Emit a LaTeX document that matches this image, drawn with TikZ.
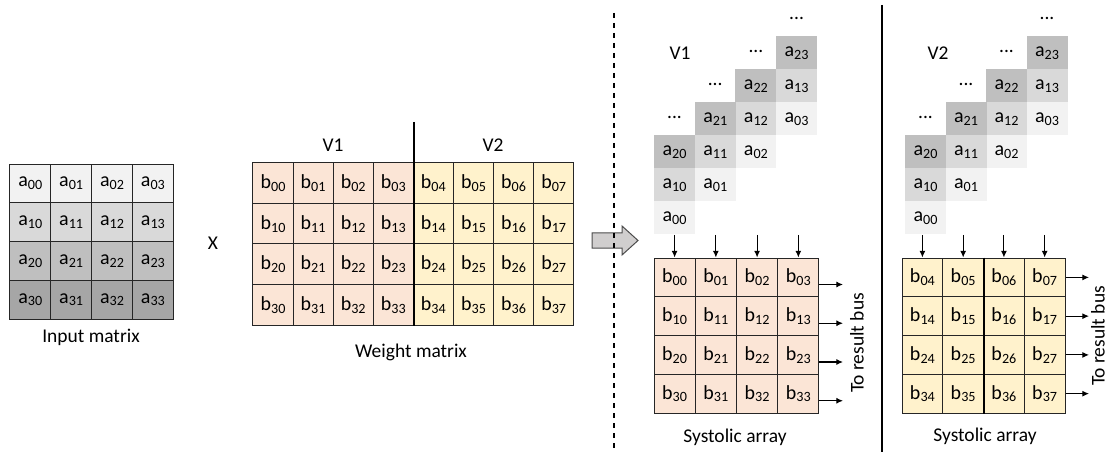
\documentclass[tikz,border=0pt]{standalone}
\usepackage{fontspec}
\setmainfont{Carlito}
\usepackage{xcolor}
\usepackage{tikz}
\usetikzlibrary{positioning,arrows.meta}
\definecolor{rowA}{HTML}{F2F2F2}
\definecolor{rowB}{HTML}{D9D9D9}
\definecolor{rowC}{HTML}{BFBFBF}
\definecolor{rowD}{HTML}{A6A6A6}
\definecolor{vone}{HTML}{FBE5D6}
\definecolor{vtwo}{HTML}{FFF2CC}
\definecolor{blockgray}{HTML}{D0CECE}
\newcommand{\idx}[1]{\raisebox{-0.3ex}{\fontsize{10.6}{12}\selectfont #1}}
\tikzset{cell/.style = {rectangle, draw=black!85, line width=0.75pt,
                           minimum width=30.9pt, minimum height=29.1pt,
                           inner sep=0pt, text centered, font=\fontsize{15}{17}\selectfont},
         feed/.style = {rectangle, minimum width=30.75pt, minimum height=24.75pt,
                           inner sep=0pt, font=\fontsize{15}{17}\selectfont},
         flow/.style = {-{Latex[length=5pt,width=4.5pt]}, line width=0.8pt}}

\begin{document}
\begin{tikzpicture}[x=0.75pt, y=-0.75pt, font=\fontsize{14.6}{17}\selectfont]
\useasboundingbox (0,0) rectangle (1116,452);
% input matrix
\foreach \i/\c in {0/rowA,1/rowB,2/rowC,3/rowD}
  \foreach \j in {0,...,3}
    \node[cell, fill=\c] (in-\i-\j) at ({30.25+40.9*\j},{183.5+38.75*\i}) {a\idx{\i\j}};
\node (inlbl) at (91,337) {Input matrix};
\node (times) at (213,243) {X};
% weight matrix
\foreach \lo/\hi/\c in {0/3/vone,4/7/vtwo}
  \foreach \i in {0,...,3}
    \foreach \j in {\lo,...,\hi}
      \node[cell, fill=\c, minimum width=30.1pt, minimum height=30.4pt] (w-\i-\j) at ({273+40.1*\j},{183.25+40.5*\i}) {b\idx{\i\j}};
\coordinate (split) at (414,122);
\draw[line width=1.5pt] (split) -- (split |- w-3-3.south);
\node (wv1) at (333,145) {V1};
\node (wv2) at (493,145) {V2};
\node (wlbl) at (411,352) {Weight matrix};
% block arrow and dividers
\draw[draw=black!70, fill=blockgray, line width=0.75pt] (592,233) -- (622,233) -- (622,226) -- (638,240.5)
  -- (622,255) -- (622,248) -- (592,248) -- cycle;
\draw[line width=0.8pt, dash pattern=on 3.75pt off 3.75pt] (614,13) -- (614,452);
\draw[line width=2.2pt] (882,5) -- (882,452);
% systolic array V1
\foreach \i/\c in {0/rowA,1/rowB,2/rowC}
  \foreach \j in {0,...,3}
    \node[feed, fill=\c] (s1-\i-\j) at ({674.5+40.7*\j},{218-33*(\i+\j)}) {a\idx{\i\j}};
\foreach \j in {0,...,3}
  \node (d1-\j) at ({674.5+40.7*\j},{216-33*(\j+3)}) {...};
\node (sv1) at (680,53) {V1};
\foreach \i in {0,...,3}
  \foreach \j in {0,...,3}
    \node[cell, fill=vone] (sa1-\i-\j) at ({674.6+41.25*\j},{277.4+38.75*\i}) {b\idx{\i\j}};
\foreach \j in {0,...,3} {
  \coordinate (in1-\j) at ({674.6+41.25*\j},235);
  \draw[flow] (in1-\j) -- (sa1-0-\j.north);
}
\foreach \i in {0,...,3} {
  \coordinate (out1-\i) at (843,{284.5+38.75*\i});
  \draw[flow] (sa1-\i-3.east |- out1-\i) -- (out1-\i);
}
\node[rotate=90] (bus1) at (857,343) {To result bus};
\node (salbl1) at (735,437) {Systolic array};
% systolic array V2
\foreach \i/\c in {0/rowA,1/rowB,2/rowC}
  \foreach \j in {0,...,3}
    \node[feed, fill=\c] (s2-\i-\j) at ({925.5+40.5*\j},{218-33*(\i+\j)}) {a\idx{\i\j}};
\foreach \j in {0,...,3}
  \node (d2-\j) at ({925.5+40.5*\j},{216-33*(\j+3)}) {...};
\node (sv2) at (938,53) {V2};
\foreach \i in {0,...,3}
  \foreach \j/\k in {0/4,1/5,2/6,3/7}
    \node[cell, fill=vtwo, minimum width=30.6pt] (sa2-\i-\j) at ({922.4+40.75*\j},{277.4+38.75*\i}) {b\idx{\i\k}};
\draw[line width=1.4pt] (sa2-0-1.north east) -- (sa2-3-1.south east);
\foreach \j in {0,...,3} {
  \coordinate (in2-\j) at ({922.4+40.75*\j},235);
  \draw[flow] (in2-\j) -- (sa2-0-\j.north);
}
\foreach \i in {0,...,3} {
  \coordinate (out2-\i) at (1089,{277.4+38.75*\i});
  \draw[flow] (sa2-\i-3.east |- out2-\i) -- (out2-\i);
}
\node[rotate=90] (bus2) at (1098,336) {To result bus};
\node (salbl2) at (985,436) {Systolic array};
\end{tikzpicture}
\end{document}
